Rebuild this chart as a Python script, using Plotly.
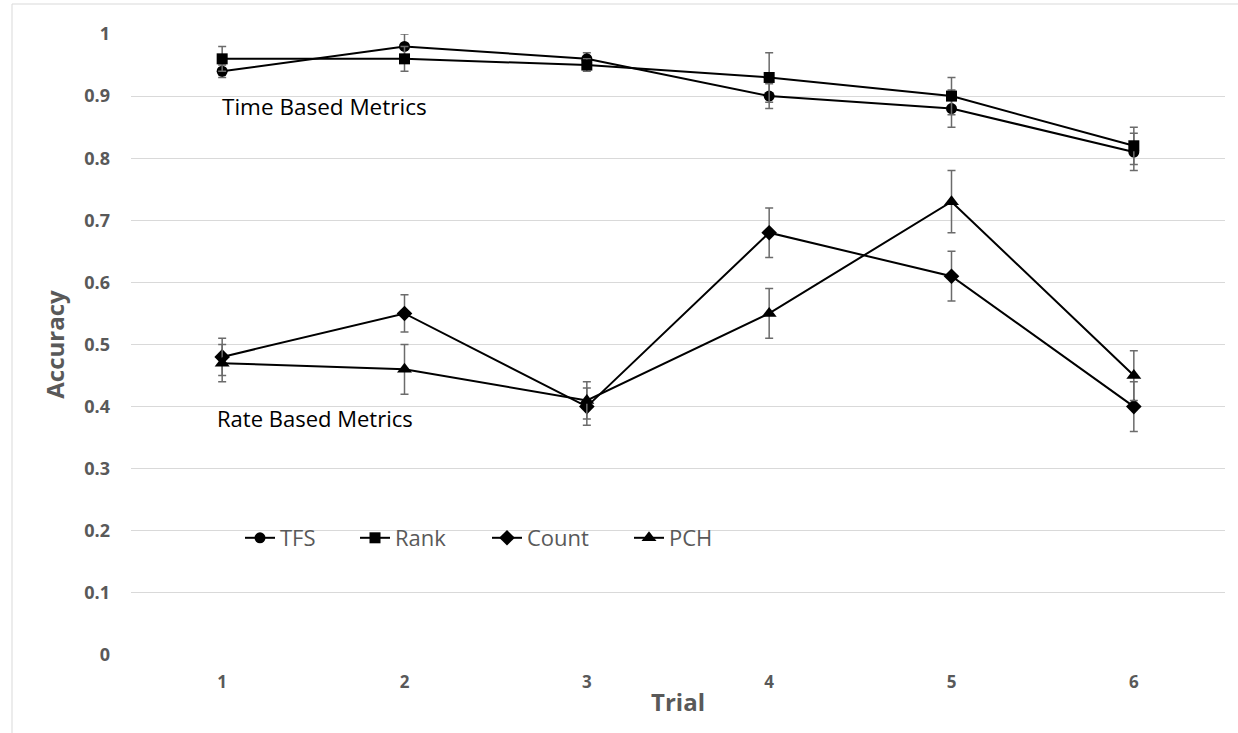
import plotly.graph_objects as go

# Trial numbers on the x axis
trials = [1, 2, 3, 4, 5, 6]

# Time based metrics
tfs = [0.94, 0.98, 0.96, 0.90, 0.88, 0.81]
tfs_err = [0.01, 0.02, 0.01, 0.02, 0.03, 0.03]
rank = [0.96, 0.96, 0.95, 0.93, 0.90, 0.82]
rank_err = [0.02, 0.02, 0.01, 0.04, 0.03, 0.03]

# Rate based metrics
count = [0.48, 0.55, 0.40, 0.68, 0.61, 0.40]
count_err = [0.03, 0.03, 0.03, 0.04, 0.04, 0.04]
pch = [0.47, 0.46, 0.41, 0.55, 0.73, 0.45]
pch_err = [0.03, 0.04, 0.03, 0.04, 0.05, 0.04]

y_ticks = [0, 0.1, 0.2, 0.3, 0.4, 0.5, 0.6, 0.7, 0.8, 0.9, 1]
y_tick_text = ["0", "0.1", "0.2", "0.3", "0.4", "0.5", "0.6", "0.7", "0.8", "0.9", "1"]

FONT = "Open Sans"
GRAY = "#595959"
ERR_COLOR = "#6b6b6b"

series = [
    ("TFS", tfs, tfs_err, "circle", 11, "legend"),
    ("Rank", rank, rank_err, "square", 11, "legend2"),
    ("Count", count, count_err, "diamond", 12, "legend3"),
    ("PCH", pch, pch_err, "triangle-up", 13, "legend4"),
]

fig = go.Figure()
for name, vals, errs, symbol, size, leg in series:
    fig.add_trace(go.Scatter(
        x=trials, y=vals, name=name, mode="lines+markers",
        line=dict(color="black", width=2),
        marker=dict(symbol=symbol, size=size, color="black"),
        error_y=dict(type="data", array=errs, visible=True,
                     color=ERR_COLOR, thickness=1.5, width=4),
        legend=leg,
    ))

# Plot area geometry (pixels) used for the paper-coordinate placements
L, R, T, B = 131, 13, 34, 78
W, H = 1238, 733
pw, ph = W - L - R, H - T - B


def px_x(p):
    return (p - L) / pw


def px_y(p):
    return (H - B - p) / ph


legend_style = dict(
    orientation="h", xanchor="left", yanchor="middle",
    bgcolor="rgba(0,0,0,0)", borderwidth=0,
    font=dict(family=FONT, size=22, color=GRAY),
    itemwidth=30,
)
legend_left = [240, 355, 487, 629]
legend_y = px_y(538)
legends = {}
for key, left in zip(["legend", "legend2", "legend3", "legend4"], legend_left):
    legends[key] = dict(x=px_x(left), y=legend_y, **legend_style)

fig.update_layout(
    width=W, height=H,
    margin=dict(l=L, r=R, t=T, b=B, pad=0),
    paper_bgcolor="white", plot_bgcolor="white",
    font=dict(family=FONT, color=GRAY),
    showlegend=True,
    **legends,
    xaxis=dict(
        range=[0.5, 6.5], tickmode="array", tickvals=trials,
        ticktext=[str(t) for t in trials],
        showgrid=False, zeroline=False, showline=False, ticks="",
        tickfont=dict(family=FONT, size=17, color=GRAY, weight="bold"),
        ticklabelstandoff=15,
        title=dict(text="Trial", standoff=2,
                   font=dict(family=FONT, size=24, color=GRAY, weight="bold")),
        fixedrange=True,
    ),
    yaxis=dict(
        range=[0, 1], tickmode="array", tickvals=y_ticks, ticktext=y_tick_text,
        showgrid=True, gridcolor="#d9d9d9", gridwidth=1,
        zeroline=False, showline=False, ticks="",
        tickfont=dict(family=FONT, size=18, color=GRAY, weight="bold"),
        ticklabelstandoff=20,
        title=dict(text="Accuracy", standoff=12,
                   font=dict(family=FONT, size=24, color=GRAY, weight="bold")),
        fixedrange=True,
    ),
    annotations=[
        dict(x=0.99, y=0.884, xref="x", yref="y", text="Time Based Metrics",
             showarrow=False, xanchor="left", yanchor="middle",
             font=dict(family=FONT, size=22.5, color="black")),
        dict(x=0.96, y=0.382, xref="x", yref="y", text="Rate Based Metrics",
             showarrow=False, xanchor="left", yanchor="middle",
             font=dict(family=FONT, size=22, color="black")),
    ],
    shapes=[
        dict(type="rect", xref="paper", yref="paper",
             x0=px_x(12), x1=px_x(1250), y0=px_y(745), y1=px_y(4),
             line=dict(color="#d9d9d9", width=1), fillcolor="rgba(0,0,0,0)",
             layer="below"),
    ],
)

fig.write_html("out.html")
